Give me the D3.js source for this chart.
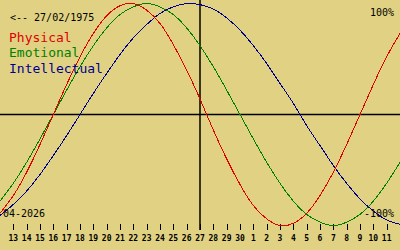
<!DOCTYPE html>
<html>
<head>
<meta charset="utf-8">
<script src="https://cdn.jsdelivr.net/npm/d3@7"></script>
<style>
  html, body { margin: 0; padding: 0; background: #e1d283; }
  svg { display: block; }
  text { font-family: "DejaVu Sans Mono", "Liberation Mono", monospace; }
</style>
</head>
<body>
<svg id="chart" width="400" height="250"></svg>
<script>
// Day offsets relative to the marked day (27), one value per day across the view
const dayOffsets = d3.range(-15, 16);
// Values in percent (left edge to right edge)
const physical = [-89, -73, -52, -27, 0, 27, 52, 73, 89, 98, 100, 94, 82, 63, 40, 14,
  -14, -40, -63, -82, -94, -100, -98, -89, -73, -52, -27, 0, 27, 52, 73];
const emotional = [-78, -62, -43, -22, 0, 22, 43, 62, 78, 90, 97, 100, 97, 90, 78, 62,
  43, 22, 0, -22, -43, -62, -78, -90, -97, -100, -97, -90, -78, -62, -43];
const intellectual = [-91, -81, -69, -54, -37, -19, 0, 19, 37, 54, 69, 81, 91, 97, 100, 99,
  95, 87, 76, 62, 46, 28, 10, -10, -28, -46, -62, -76, -87, -95, -99];
// Tick labels (day of month) for offsets -14 .. 14
const tickOffsets = d3.range(-14, 15);
const tickLabels = ["13","14","15","16","17","18","19","20","21","22","23","24","25","26",
  "27","28","29","30","1","2","3","4","5","6","7","8","9","10","11"];
const seriesNames = ["Physical", "Emotional", "Intellectual"];
const seriesColors = ["#e00000", "#008000", "#000090"];
const birthLabel = "<-- 27/02/1975";
const monthLabel = "04-2026";
const topLabel = "100%";
const bottomLabel = "-100%";

const svg = d3.select("#chart");
const W = 400, H = 250;
svg.append("rect").attr("width", W).attr("height", H).attr("fill", "#e1d283");

const x = d3.scaleLinear().domain([-15, 15]).range([0, 400]);
const y = d3.scaleLinear().domain([-100, 100]).range([225.5, 3.5]);

// zero line
svg.append("line")
  .attr("x1", 0).attr("x2", W)
  .attr("y1", y(0)).attr("y2", y(0))
  .attr("stroke", "#000").attr("stroke-width", 1.5);

// today line
svg.append("line")
  .attr("x1", x(0)).attr("x2", x(0))
  .attr("y1", 0).attr("y2", 230)
  .attr("stroke", "#000").attr("stroke-width", 1.5);

// ticks
const tickG = svg.append("g");
tickG.selectAll("line").data(tickOffsets).join("line")
  .attr("x1", d => Math.round(x(d)) + 0.5).attr("x2", d => Math.round(x(d)) + 0.5)
  .attr("y1", 224).attr("y2", 230)
  .attr("stroke", "#000").attr("stroke-width", 1);
tickG.selectAll("text").data(tickOffsets).join("text")
  .attr("x", d => x(d))
  .attr("y", 241)
  .attr("text-anchor", "middle")
  .attr("font-size", 8)
  .attr("font-weight", "bold")
  .attr("fill", "#000")
  .text((d, i) => tickLabels[i]);

// curves
const allSeries = [intellectual, emotional, physical];
const allColors = [seriesColors[2], seriesColors[1], seriesColors[0]];
const line = d3.line()
  .x((d, i) => x(dayOffsets[i]))
  .y(d => y(d))
  .curve(d3.curveNatural);
allSeries.forEach((s, i) => {
  svg.append("path")
    .attr("d", line(s))
    .attr("fill", "none")
    .attr("stroke", allColors[i])
    .attr("stroke-width", 1)
    .attr("shape-rendering", "crispEdges");
});

// labels
svg.append("text").attr("x", 10).attr("y", 21).attr("font-size", 10).attr("fill", "#000").text(birthLabel);
seriesNames.forEach((n, i) => {
  svg.append("text")
    .attr("x", 9).attr("y", 41.5 + i * 15.7)
    .attr("font-size", 13)
    .attr("fill", seriesColors[i])
    .text(n);
});
svg.append("text").attr("x", 394).attr("y", 16).attr("text-anchor", "end")
  .attr("font-size", 10).attr("fill", "#000").text(topLabel);
svg.append("text").attr("x", 394).attr("y", 217).attr("text-anchor", "end")
  .attr("font-size", 10).attr("fill", "#000").text(bottomLabel);
svg.append("text").attr("x", 3).attr("y", 217)
  .attr("font-size", 10).attr("fill", "#000").text(monthLabel);
</script>
</body>
</html>
